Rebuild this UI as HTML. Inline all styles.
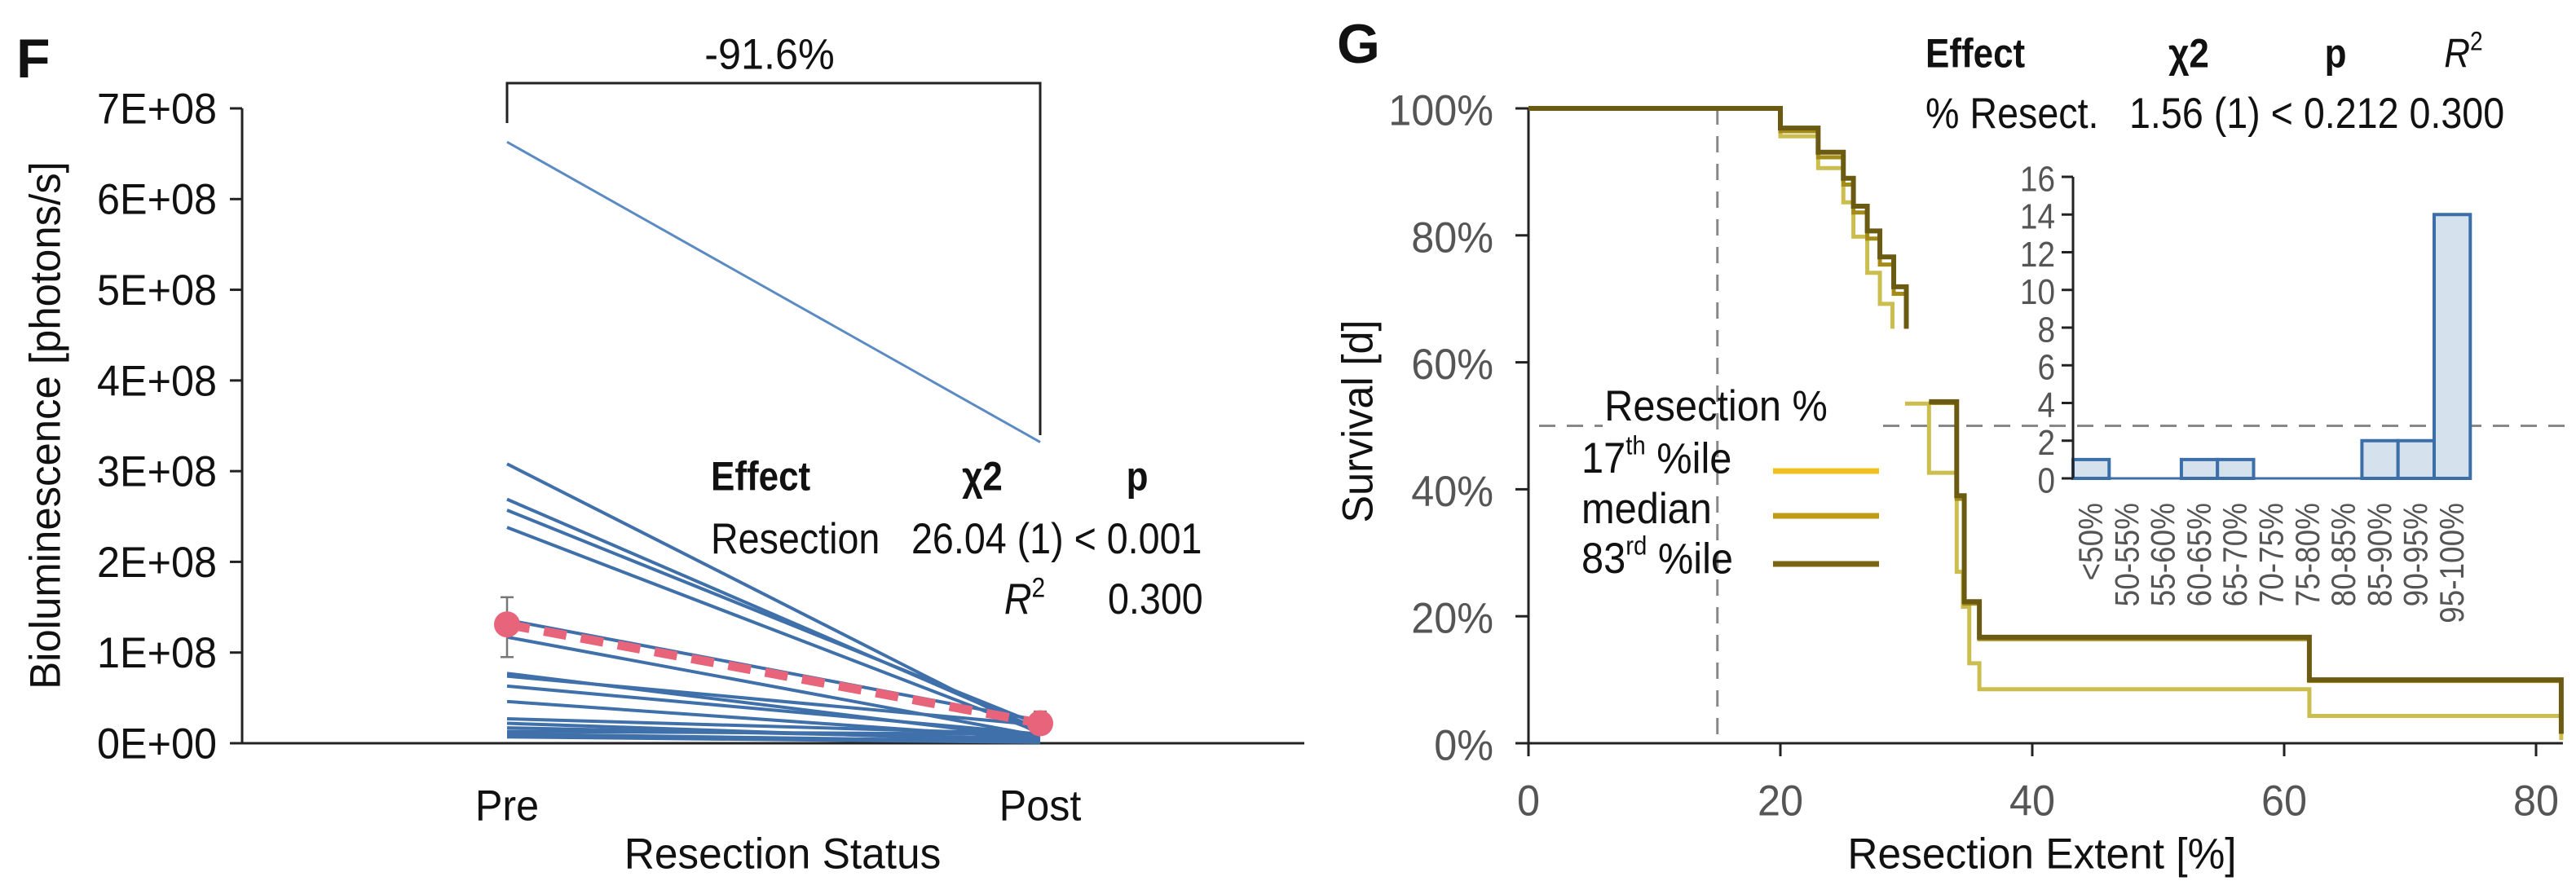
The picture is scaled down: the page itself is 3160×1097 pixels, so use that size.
<!DOCTYPE html>
<html><head><meta charset="utf-8">
<style>
html,body{margin:0;padding:0;background:#fff;}
svg{display:block;font-family:"Liberation Sans",Arial,sans-serif;}
</style></head>
<body>
<svg id="fig" width="3160" height="1097" viewBox="0 0 3160 1097" xmlns="http://www.w3.org/2000/svg">
<g id="panelF"></g>
<g id="panelG"></g>
</svg>
<script>
// ---------- Panel F data ----------
const fCategories = ["Pre", "Post"];
const fPre  = [6.63, 3.08, 2.69, 2.57, 2.38, 1.36, 1.17, 0.77, 0.74, 0.63, 0.46, 0.27, 0.22, 0.17, 0.13, 0.10, 0.07];
const fPost = [3.32, 0.10, 0.15, 0.20, 0.12, 0.25, 0.08, 0.05, 0.20, 0.10, 0.05, 0.10, 0.02, 0.05, 0.10, 0.02, 0.01];
const fMean = [1.31, 0.22];
const fErrLo = [0.95, 0.12];
const fErrHi = [1.61, 0.35];
const fTicks = ["0E+00","1E+08","2E+08","3E+08","4E+08","5E+08","6E+08","7E+08"];

// ---------- Panel G data ----------
const gXTicks = [0, 20, 40, 60, 80];
const gYTicks = ["0%","20%","40%","60%","80%","100%"];
const lightX1 = [0, 20, 23, 25, 25.8, 26.9, 27.9, 28.9];
const lightY1 = [100, 95.6, 90.6, 85.2, 79.8, 74.1, 69.2, 65.3];
const lightX2 = [29.9, 31.8, 34.0, 34.5, 35.0, 35.8, 62, 82];
const lightY2 = [53.5, 42.6, 27.0, 21.5, 12.6, 8.5, 4.3, 0.5];
const medX1 = [0, 20, 23, 25, 25.8, 26.9, 27.9, 29.0, 30.0];
const medY1 = [100, 96.4, 92.3, 88.0, 83.6, 79.5, 75.4, 70.8, 65.3];
const medX2 = [31.8, 34.0, 34.6, 35.8, 62, 82];
const medY2 = [53.6, 38.5, 22.0, 16.4, 9.8, 1.5];
const darkX1 = [0, 20, 23, 25, 25.8, 26.9, 27.9, 29.0, 30.0];
const darkY1 = [100, 96.9, 93.1, 89.0, 84.6, 80.7, 76.6, 71.9, 65.3];
const darkX2 = [31.8, 34.0, 34.6, 35.8, 62, 82];
const darkY2 = [53.8, 39.0, 22.3, 16.7, 10.0, 1.5];
const histCats = ["<50%","50-55%","55-60%","60-65%","65-70%","70-75%","75-80%","80-85%","85-90%","90-95%","95-100%"];
const histVals = [1,0,0,1,1,0,0,0,2,2,14];
const histTicks = [0,2,4,6,8,10,12,14,16];

const NS = "http://www.w3.org/2000/svg";
const SX = 0.88;
function mk(tag, attrs, parent){
  const el = document.createElementNS(NS, tag);
  for (const k in attrs) el.setAttribute(k, attrs[k]);
  parent.appendChild(el);
  return el;
}
function txt(parent, x, y, s, size, anchor, name, extra){
  extra = extra || {};
  const rot = extra.rot ? ' rotate(' + extra.rot + ')' : '';
  const sx = extra.sx || SX;
  const el = mk('text', {transform:'translate(' + x + ',' + y + ')' + rot + ' scale(' + sx + ',1)', 'font-size':size, 'text-anchor':anchor, 'dominant-baseline':'central', fill: extra.fill || '#111', 'font-weight': extra.bold ? 'bold' : 'normal', 'font-style': extra.italic ? 'italic' : 'normal'}, parent);
  el.textContent = s;
  
  
  return el;
}
function line(parent, x1, y1, x2, y2, stroke, w, name, dash){
  const el = mk('line', {x1:x1, y1:y1, x2:x2, y2:y2, stroke:stroke, 'stroke-width':w}, parent);
  if (dash) el.setAttribute('stroke-dasharray', dash);
  
  
  return el;
}

// ================= Panel F =================
const F = document.getElementById('panelF');
const fX0 = 297, fY0 = 912, fY7 = 133;
const fy = v => fY0 - (v / 7) * (fY0 - fY7);
const fxPos = [622, 1276];
const fx = i => fxPos[i];

txt(F, 20, 72, "F", 68, 'start', 'panel-label-f', {bold:true, sx:1});
line(F, fX0, fY7, fX0, fY0, '#222', 3, 'y-axis');
line(F, 282, fY0, 1600, fY0, '#222', 3, 'x-axis');
fTicks.forEach((t, i) => {
  line(F, fX0 - 15, fy(i), fX0, fy(i), '#222', 3, 'y-tick');
  txt(F, 266, fy(i), t, 53, 'end', 'y-tick-label', {sx:0.95});
});
fCategories.forEach((c, i) => txt(F, fx(i), 988, c, 53, 'middle', 'x-tick-label', {sx:0.95}));
txt(F, 960, 1048, "Resection Status", 53, 'middle', 'x-axis-title', {sx:0.97});
txt(F, 56, 522, "Bioluminescence [photons/s]", 53, 'middle', 'y-axis-title', {rot:-90, sx:0.96});

fPre.forEach((v, i) => {
  line(F, fx(0), fy(v), fx(1), fy(fPost[i]), i === 0 ? '#5b8bc2' : '#3f70aa', i === 0 ? 3 : 4, 'subject-line');
});
line(F, fx(0), fy(fMean[0]), fx(1), fy(fMean[1]), '#e8647a', 11, 'mean-line', '28,18');
[0,1].forEach(i => {
  line(F, fx(i), fy(fErrLo[i]), fx(i), fy(fErrHi[i]), '#777', 2.5, 'error-bar');
  line(F, fx(i) - 8, fy(fErrLo[i]), fx(i) + 8, fy(fErrLo[i]), '#777', 2.5, 'error-cap');
  line(F, fx(i) - 8, fy(fErrHi[i]), fx(i) + 8, fy(fErrHi[i]), '#777', 2.5, 'error-cap');
  const c = mk('circle', {cx:fx(i), cy:fy(fMean[i]), r:16, fill:'#e8647a'}, F);
  
  
});
const br = mk('path', {d:'M' + fx(0) + ' 151 V102 H' + fx(1) + ' V534', fill:'none', stroke:'#222', 'stroke-width':3}, F);


txt(F, 944, 66, "-91.6%", 53, 'middle', 'change-label', {sx:0.95});
txt(F, 872, 584, "Effect", 50, 'start', 'stats-header-effect', {bold:true});
txt(F, 1205, 584, "χ2", 50, 'middle', 'stats-header-chi2', {bold:true});
txt(F, 1395, 584, "p", 50, 'middle', 'stats-header-p', {bold:true});
txt(F, 872, 661, "Resection", 53, 'start', 'stats-effect-name');
txt(F, 1118, 661, "26.04 (1) < 0.001", 53, 'start', 'stats-chi2-p');
const r2 = txt(F, 1257, 735, "R", 53, 'middle', 'stats-r2-label', {italic:true});
const sup = document.createElementNS(NS, 'tspan');
sup.setAttribute('font-size', 34); sup.setAttribute('dy', -14); sup.setAttribute('font-style','normal');
sup.textContent = "2";
r2.appendChild(sup);
txt(F, 1359, 735, "0.300", 53, 'start', 'stats-r2-value');

// ================= Panel G =================
const G = document.getElementById('panelG');
const gX0 = 1875, gUnit = 15.45, gY0 = 912, gY100 = 133;
const gx = v => gX0 + v * gUnit;
const gy = v => gY0 - v / 100 * (gY0 - gY100);

txt(G, 1640, 54, "G", 68, 'start', 'panel-label-g', {bold:true, sx:1});
line(G, gx(15), gy(100), gx(15), gy(0), '#888', 3, 'reference-vline', '20,14');
line(G, 1888, gy(50), 1966, gy(50), '#888', 3, 'reference-hline', '20,14');
line(G, 2310, gy(50), 3160, gy(50), '#888', 3, 'reference-hline', '20,14');
line(G, gX0, gY100, gX0, gY0 + 16, '#222', 3, 'y-axis');
line(G, gX0 - 16, gY0, gx(82) + 2, gY0, '#222', 3, 'x-axis');
gYTicks.forEach((t, i) => {
  line(G, gX0 - 16, gy(i * 20), gX0, gy(i * 20), '#222', 3, 'y-tick');
  txt(G, 1832, gy(i * 20) + 2, t, 53, 'end', 'y-tick-label', {fill:'#555', sx:0.95});
});
gXTicks.forEach(t => {
  line(G, gx(t), gY0, gx(t), gY0 + 16, '#222', 3, 'x-tick');
  txt(G, gx(t), 982, String(t), 53, 'middle', 'x-tick-label', {fill:'#555', sx:0.95});
});
txt(G, 2505, 1048, "Resection Extent [%]", 53, 'middle', 'x-axis-title', {sx:0.97});
txt(G, 1665, 517, "Survival [d]", 53, 'middle', 'y-axis-title', {rot:-90, sx:0.95});

function stepPath(xs, ys){
  let d = 'M' + gx(xs[0]) + ' ' + gy(ys[0]);
  for (let i = 1; i < xs.length; i++){
    d += ' H' + gx(xs[i]) + ' V' + gy(ys[i]);
  }
  return d;
}
function curve(xs1, ys1, xs2, ys2, color, w, name){
  const p1 = mk('path', {d: stepPath(xs1, ys1), fill:'none', stroke:color, 'stroke-width':w}, G);
  
  
  const p2 = mk('path', {d: stepPath(xs2, ys2), fill:'none', stroke:color, 'stroke-width':w}, G);
  
  
}
curve(lightX1, lightY1, lightX2, lightY2, '#cbbd4e', 5, 'survival-17th');
curve(medX1, medY1, medX2, medY2, '#a58c18', 5, 'survival-median');
curve(darkX1, darkY1, darkX2, darkY2, '#6b5b12', 6, 'survival-83rd');

txt(G, 2105, 498, "Resection %", 53, 'middle', 'legend-title', {sx:0.92});
const legItems = [["17", "th", " %ile", '#f0c020', 562, 578, 'legend-17th'],
                  ["median", "", "", '#c09a10', 624, 633, 'legend-median'],
                  ["83", "rd", " %ile", '#7a6512', 685, 692, 'legend-83rd']];
legItems.forEach(it => {
  const t = txt(G, 1940, it[4], it[0], 53, 'start', it[6], {sx:0.92});
  if (it[1]){
    const s = document.createElementNS(NS, 'tspan');
    s.setAttribute('font-size', 32); s.setAttribute('dy', -16);
    s.textContent = it[1];
    t.appendChild(s);
    const s2 = document.createElementNS(NS, 'tspan');
    s2.setAttribute('dy', 16);
    s2.textContent = it[2];
    t.appendChild(s2);
  }
  line(G, 2175, it[5], 2305, it[5], it[3], 7, 'legend-swatch');
});

txt(G, 2362, 65, "Effect", 50, 'start', 'stats-header-effect', {bold:true});
txt(G, 2685, 65, "χ2", 50, 'middle', 'stats-header-chi2', {bold:true});
txt(G, 2865, 65, "p", 50, 'middle', 'stats-header-p', {bold:true});
const gr2 = txt(G, 3022, 65, "R", 50, 'middle', 'stats-header-r2', {italic:true});
const gsup = document.createElementNS(NS, 'tspan');
gsup.setAttribute('font-size', 32); gsup.setAttribute('dy', -14); gsup.setAttribute('font-style','normal');
gsup.textContent = "2";
gr2.appendChild(gsup);
txt(G, 2362, 139, "% Resect.", 53, 'start', 'stats-effect-name');
txt(G, 2612, 139, "1.56 (1) < 0.212 0.300", 53, 'start', 'stats-values');

const H = mk('g', {}, G);


const hX0 = 2543, hBinW = 44.3, hY0 = 587, hY16 = 217;
const hy = v => hY0 - v / 16 * (hY0 - hY16);
const hx = i => hX0 + i * hBinW;
histVals.forEach((v, i) => {
  if (v > 0){
    const r = mk('rect', {x:hx(i), y:hy(v), width:hBinW, height:hy(0) - hy(v), fill:'#d6e1ee', stroke:'#3c6ea8', 'stroke-width':4}, H);
    
    
  }
  txt(H, hx(i) + hBinW / 2, 617, histCats[i], 42, 'end', 'hist-category-label', {rot:-90, fill:'#555'});
});
line(H, hX0, hY0, hx(histVals.length), hY0, '#3c6ea8', 3, 'hist-baseline');
line(H, hX0, hY16, hX0, hY0, '#222', 3, 'hist-y-axis');
histTicks.forEach(t => {
  line(H, hX0 - 14, hy(t), hX0, hy(t), '#222', 3, 'hist-y-tick');
  txt(H, hX0 - 22, hy(t) + 2, String(t), 44, 'end', 'hist-y-tick-label', {fill:'#555'});
});
</script>
</body></html>
